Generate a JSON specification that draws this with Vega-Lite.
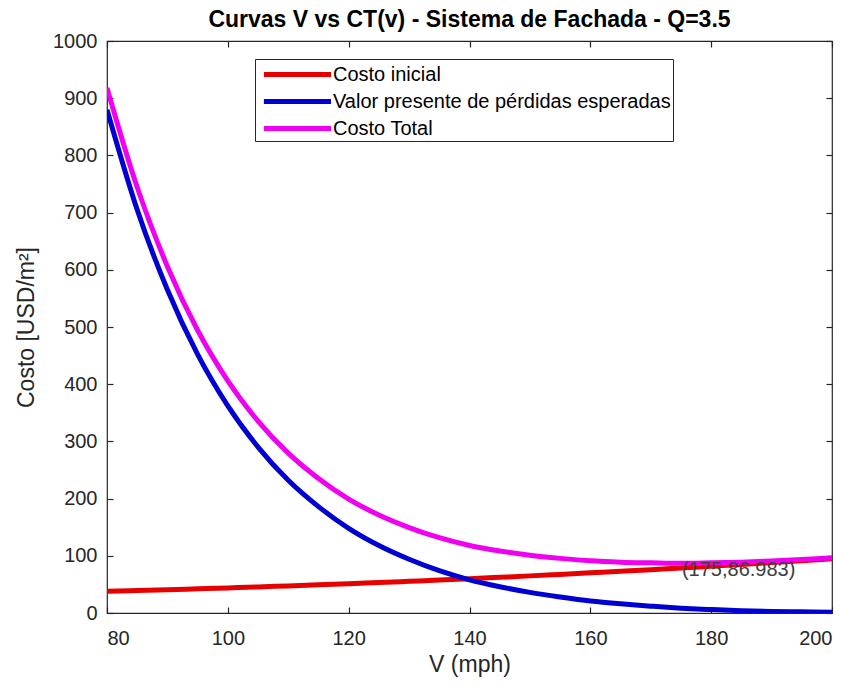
{
  "$schema": "https://vega.github.io/schema/vega-lite/v6.json",
  "width": 725,
  "height": 572,
  "autosize": {"type": "none"},
  "padding": {"left": 107, "top": 41, "right": 20, "bottom": 75},
  "background": "white",
  "config": {
    "font": "Liberation Sans",
    "view": {"stroke": "#262626", "strokeWidth": 1.2},
    "axis": {
      "labelFont": "Liberation Sans",
      "titleFont": "Liberation Sans",
      "labelFontSize": 20,
      "titleFontSize": 23,
      "labelColor": "#262626",
      "titleColor": "#262626",
      "titleFontWeight": "normal",
      "domain": false,
      "grid": false,
      "tickColor": "#262626",
      "tickSize": 6,
      "tickWidth": 1.2,
      "offset": -6,
      "format": "d"
    }
  },
  "title": {
    "text": "Curvas V vs CT(v) - Sistema de Fachada - Q=3.5",
    "font": "Liberation Sans",
    "fontSize": 23,
    "fontWeight": "bold",
    "color": "#000000",
    "anchor": "middle",
    "offset": -1
  },
  "data": {
    "values": [
      {"v": 80, "s": "Costo inicial", "c": 38.0},
      {"v": 85, "s": "Costo inicial", "c": 39.3},
      {"v": 90, "s": "Costo inicial", "c": 40.8},
      {"v": 95, "s": "Costo inicial", "c": 42.3},
      {"v": 100, "s": "Costo inicial", "c": 43.9},
      {"v": 105, "s": "Costo inicial", "c": 45.6},
      {"v": 110, "s": "Costo inicial", "c": 47.4},
      {"v": 115, "s": "Costo inicial", "c": 49.2},
      {"v": 120, "s": "Costo inicial", "c": 51.2},
      {"v": 125, "s": "Costo inicial", "c": 53.3},
      {"v": 130, "s": "Costo inicial", "c": 55.4},
      {"v": 135, "s": "Costo inicial", "c": 57.6},
      {"v": 140, "s": "Costo inicial", "c": 60.0},
      {"v": 145, "s": "Costo inicial", "c": 62.4},
      {"v": 150, "s": "Costo inicial", "c": 64.9},
      {"v": 155, "s": "Costo inicial", "c": 67.5},
      {"v": 160, "s": "Costo inicial", "c": 70.2},
      {"v": 165, "s": "Costo inicial", "c": 72.9},
      {"v": 170, "s": "Costo inicial", "c": 75.8},
      {"v": 175, "s": "Costo inicial", "c": 78.483},
      {"v": 180, "s": "Costo inicial", "c": 81.8},
      {"v": 185, "s": "Costo inicial", "c": 84.9},
      {"v": 190, "s": "Costo inicial", "c": 88.2},
      {"v": 195, "s": "Costo inicial", "c": 91.5},
      {"v": 200, "s": "Costo inicial", "c": 94.9},
      {"v": 80, "s": "Valor presente de pérdidas esperadas", "c": 880},
      {"v": 85, "s": "Valor presente de pérdidas esperadas", "c": 705},
      {"v": 90, "s": "Valor presente de pérdidas esperadas", "c": 565},
      {"v": 95, "s": "Valor presente de pérdidas esperadas", "c": 452},
      {"v": 100, "s": "Valor presente de pérdidas esperadas", "c": 362},
      {"v": 105, "s": "Valor presente de pérdidas esperadas", "c": 290},
      {"v": 110, "s": "Valor presente de pérdidas esperadas", "c": 232},
      {"v": 115, "s": "Valor presente de pérdidas esperadas", "c": 186},
      {"v": 120, "s": "Valor presente de pérdidas esperadas", "c": 148},
      {"v": 125, "s": "Valor presente de pérdidas esperadas", "c": 118},
      {"v": 130, "s": "Valor presente de pérdidas esperadas", "c": 94},
      {"v": 135, "s": "Valor presente de pérdidas esperadas", "c": 74},
      {"v": 140, "s": "Valor presente de pérdidas esperadas", "c": 58},
      {"v": 145, "s": "Valor presente de pérdidas esperadas", "c": 46},
      {"v": 150, "s": "Valor presente de pérdidas esperadas", "c": 36},
      {"v": 155, "s": "Valor presente de pérdidas esperadas", "c": 28},
      {"v": 160, "s": "Valor presente de pérdidas esperadas", "c": 21},
      {"v": 165, "s": "Valor presente de pérdidas esperadas", "c": 16},
      {"v": 170, "s": "Valor presente de pérdidas esperadas", "c": 12},
      {"v": 175, "s": "Valor presente de pérdidas esperadas", "c": 8.5},
      {"v": 180, "s": "Valor presente de pérdidas esperadas", "c": 6},
      {"v": 185, "s": "Valor presente de pérdidas esperadas", "c": 4},
      {"v": 190, "s": "Valor presente de pérdidas esperadas", "c": 2.8},
      {"v": 195, "s": "Valor presente de pérdidas esperadas", "c": 2},
      {"v": 200, "s": "Valor presente de pérdidas esperadas", "c": 1.5},
      {"v": 80, "s": "Costo Total", "c": 918},
      {"v": 85, "s": "Costo Total", "c": 744.3},
      {"v": 90, "s": "Costo Total", "c": 605.8},
      {"v": 95, "s": "Costo Total", "c": 494.3},
      {"v": 100, "s": "Costo Total", "c": 405.9},
      {"v": 105, "s": "Costo Total", "c": 335.6},
      {"v": 110, "s": "Costo Total", "c": 279.4},
      {"v": 115, "s": "Costo Total", "c": 235.2},
      {"v": 120, "s": "Costo Total", "c": 199.2},
      {"v": 125, "s": "Costo Total", "c": 171.3},
      {"v": 130, "s": "Costo Total", "c": 149.4},
      {"v": 135, "s": "Costo Total", "c": 131.6},
      {"v": 140, "s": "Costo Total", "c": 118},
      {"v": 145, "s": "Costo Total", "c": 108.4},
      {"v": 150, "s": "Costo Total", "c": 100.9},
      {"v": 155, "s": "Costo Total", "c": 95.5},
      {"v": 160, "s": "Costo Total", "c": 91.2},
      {"v": 165, "s": "Costo Total", "c": 88.9},
      {"v": 170, "s": "Costo Total", "c": 87.8},
      {"v": 175, "s": "Costo Total", "c": 86.983},
      {"v": 180, "s": "Costo Total", "c": 87.8},
      {"v": 185, "s": "Costo Total", "c": 88.9},
      {"v": 190, "s": "Costo Total", "c": 91.0},
      {"v": 195, "s": "Costo Total", "c": 93.5},
      {"v": 200, "s": "Costo Total", "c": 96.4}
    ]
  },
  "resolve": {"axis": {"x": "independent", "y": "independent"}},
  "layer": [
    {
      "mark": {"type": "line", "strokeWidth": 5, "interpolate": "monotone", "clip": true},
      "encoding": {
        "x": {"field": "v", "type": "quantitative", "scale": {"domain": [80, 200], "nice": false},
              "axis": {"orient": "bottom", "title": "V (mph)", "values": [80, 100, 120, 140, 160, 180, 200], "labelPadding": 15, "titlePadding": 5}},
        "y": {"field": "c", "type": "quantitative", "scale": {"domain": [0, 1000], "nice": false},
              "axis": {"orient": "left", "title": "Costo [USD/m²]", "values": [0, 100, 200, 300, 400, 500, 600, 700, 800, 900, 1000], "labelPadding": 10, "titlePadding": 14}},
        "color": {
          "field": "s", "type": "nominal",
          "scale": {"domain": ["Costo inicial", "Valor presente de pérdidas esperadas", "Costo Total"], "range": ["#e60000", "#0000d2", "#f000f0"]},
          "sort": null,
          "legend": {
            "title": null,
            "orient": "none",
            "legendX": 148,
            "legendY": 18,
            "symbolType": "M-0.6,0H5.5",
            "symbolSize": 484,
            "symbolStrokeWidth": 5,
            "labelFontSize": 20,
            "labelFont": "Liberation Sans",
            "labelColor": "#000000",
            "labelOffset": 49,
            "rowPadding": 3,
            "padding": 2,
            "strokeColor": "#262626",
            "fillColor": "white",
            "labelLimit": 500
          }
        }
      }
    },
    {
      "data": {"values": [{"v": 175, "c": 86.983, "t": "(175,86.983)"}]},
      "mark": {"type": "text", "align": "left", "baseline": "middle", "dx": 1, "dy": 7, "fontSize": 20, "color": "#404040", "font": "Liberation Sans"},
      "encoding": {
        "x": {"field": "v", "type": "quantitative", "axis": {"orient": "top", "title": null, "labels": false, "values": [80, 100, 120, 140, 160, 180, 200]}},
        "y": {"field": "c", "type": "quantitative", "axis": {"orient": "right", "title": null, "labels": false, "values": [0, 100, 200, 300, 400, 500, 600, 700, 800, 900, 1000]}},
        "text": {"field": "t"}
      }
    }
  ]
}
